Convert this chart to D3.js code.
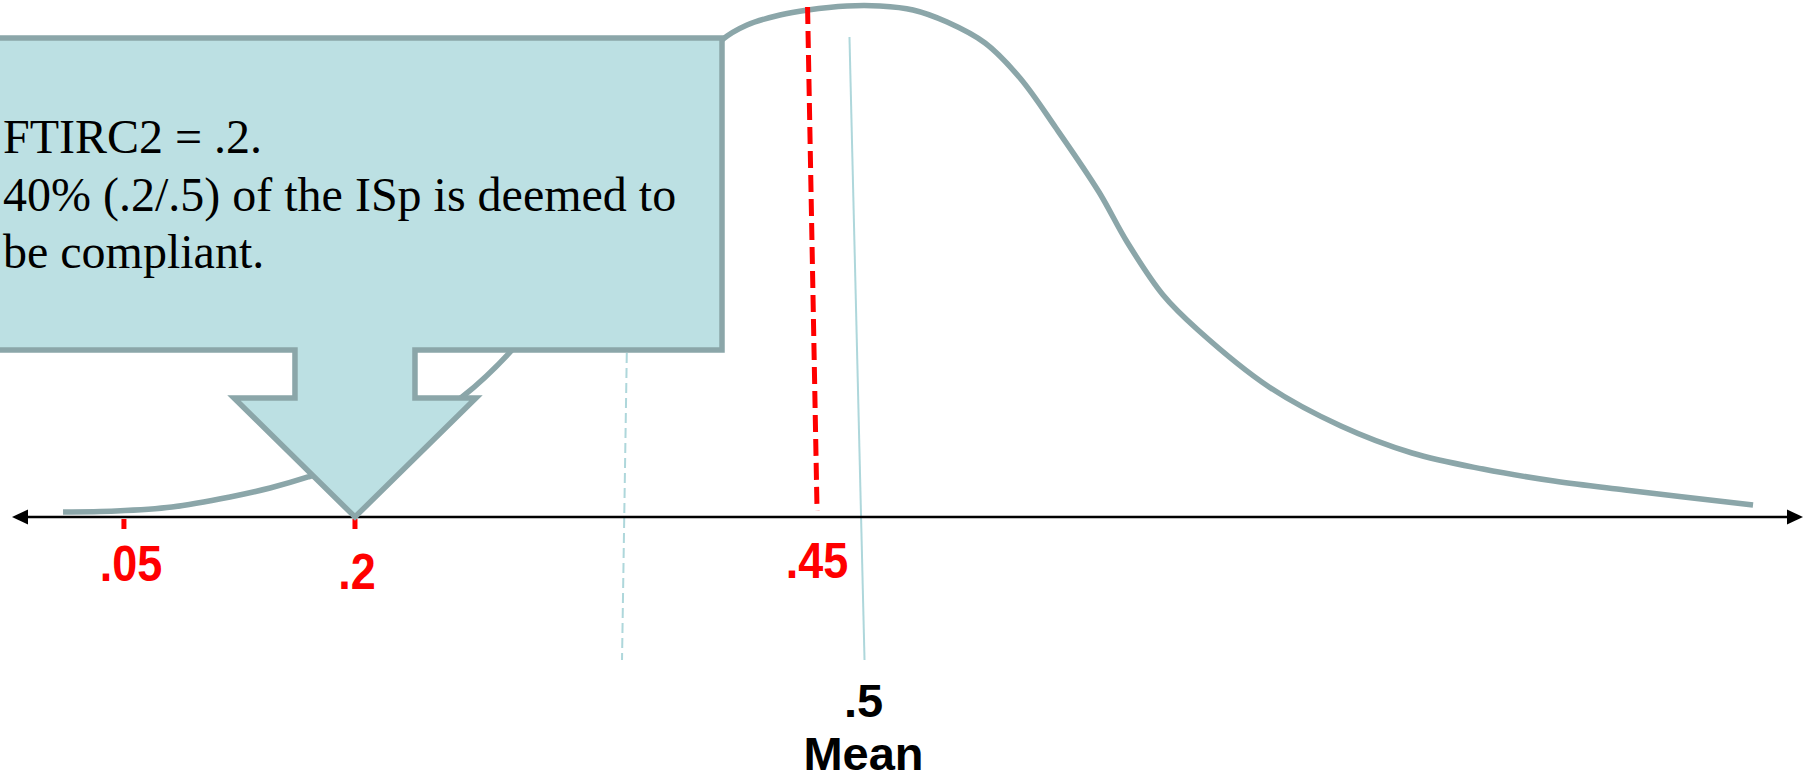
<!DOCTYPE html>
<html>
<head>
<meta charset="utf-8">
<script src="https://cdn.jsdelivr.net/npm/d3@7"></script>
<style>
  html, body { margin: 0; padding: 0; background: #ffffff; }
  svg { display: block; }
</style>
</head>
<body>
<svg id="chart" width="1816" height="780"></svg>
<script>
// ---------------- DATA ----------------
// Skewed distribution curve, position along the axis (0-100) and height (0-100)
const curveX = [2.85, 5.81, 8.93, 12.17, 14.41, 16.53, 18.87, 21.66, 25.13, 27.92,
                30.6, 32.83, 35.06, 37.3, 39.64, 41.04, 42.88, 44.44, 46.62, 48.46,
                50.31, 52.21, 54.33, 56.28, 58.29, 60.69, 62.26, 64.27, 66.22, 70.19,
                74.2, 78.17, 82.13, 86.1, 90.06, 97.21];
const curveY = [0.97, 1.16, 1.93, 3.87, 5.61, 7.74, 10.64, 15.47, 23.21, 32.3,
                43.91, 56.48, 70.02, 82.59, 92.26, 95.16, 97.1, 98.07, 98.84, 98.84,
                98.07, 95.74, 91.68, 84.91, 75.24, 62.86, 53.19, 42.94, 36.17, 25.15,
                17.6, 12.38, 9.28, 6.96, 5.22, 2.32];

// Red value labels on the axis
const tickLabels = [".05", ".2", ".45"];
const tickPos = [6.25, 19.15, 44.95];

// Red dashed threshold line (.45) : top / bottom position along the axis
const thresholdPos = [44.42, 44.95];
// Mean line (.5): top / bottom position
const meanPos = [46.76, 47.6];
const meanLabels = [".5", "Mean"];
// Light blue dashed guide line: top / bottom position
const guidePos = [34.6, 34.06];

// Callout text
const calloutLines = ["FTIRC2 = .2.", "40% (.2/.5) of the ISp is deemed to", "be compliant."];

// ---------------- LAYOUT ----------------
const W = 1816, H = 780;
const axisY = 517;
const svg = d3.select("#chart");

const x = d3.scaleLinear().domain([0, 100]).range([12, 1803]);
const y = d3.scaleLinear().domain([0, 100]).range([axisY, 0]);

const curveColor = "#8ba6a9";
const calloutFill = "#bce0e3";
const lightBlue = "#aed7db";
const red = "#ff0000";

// light blue dashed guide line (behind callout)
svg.append("line")
  .attr("x1", x(guidePos[0])).attr("y1", 38)
  .attr("x2", x(guidePos[1])).attr("y2", 660)
  .attr("stroke", lightBlue).attr("stroke-width", 2)
  .attr("stroke-dasharray", "10,5");

// mean line
svg.append("line")
  .attr("x1", x(meanPos[0])).attr("y1", 37)
  .attr("x2", x(meanPos[1])).attr("y2", 660)
  .attr("stroke", lightBlue).attr("stroke-width", 2);

// curve
const pts = curveX.map((d, i) => [d, curveY[i]]);
const line = d3.line().x(d => x(d[0])).y(d => y(d[1])).curve(d3.curveCatmullRom.alpha(0.5));
svg.append("path")
  .attr("d", line(pts))
  .attr("fill", "none")
  .attr("stroke", curveColor)
  .attr("stroke-width", 5.5);

// red dashed threshold line
svg.append("line")
  .attr("x1", x(thresholdPos[0])).attr("y1", 7)
  .attr("x2", x(thresholdPos[1])).attr("y2", 511)
  .attr("stroke", red).attr("stroke-width", 5)
  .attr("stroke-dasharray", "17,7");

// axis with arrowheads
const [ax0, ax1] = x.range();
svg.append("line")
  .attr("x1", ax0 + 8).attr("y1", axisY)
  .attr("x2", ax1 - 8).attr("y2", axisY)
  .attr("stroke", "#000").attr("stroke-width", 2.5);
svg.append("path")
  .attr("d", `M${ax0},${axisY} L${ax0 + 16},${axisY - 7.5} L${ax0 + 16},${axisY + 7.5} Z`)
  .attr("fill", "#000");
svg.append("path")
  .attr("d", `M${ax1},${axisY} L${ax1 - 16},${axisY - 7.5} L${ax1 - 16},${axisY + 7.5} Z`)
  .attr("fill", "#000");

// red tick marks (.05 and .2)
svg.selectAll("line.tick").data(tickPos.slice(0, 2)).join("line")
  .attr("class", "tick")
  .attr("x1", d => x(d)).attr("x2", d => x(d))
  .attr("y1", axisY + 2).attr("y2", axisY + 12)
  .attr("stroke", red).attr("stroke-width", 5);

// callout (down-arrow)
const tipX = x(tickPos[1]), tipY = axisY;
const boxL = -10, boxR = 722, boxT = 38, boxB = 350;
const stemHalf = 60, headHalf = 121, headTop = 398;
const callout = d3.path();
callout.moveTo(boxL, boxT);
callout.lineTo(boxR, boxT);
callout.lineTo(boxR, boxB);
callout.lineTo(tipX + stemHalf, boxB);
callout.lineTo(tipX + stemHalf, headTop);
callout.lineTo(tipX + headHalf, headTop);
callout.lineTo(tipX, tipY);
callout.lineTo(tipX - headHalf, headTop);
callout.lineTo(tipX - stemHalf, headTop);
callout.lineTo(tipX - stemHalf, boxB);
callout.lineTo(boxL, boxB);
callout.closePath();
svg.append("path")
  .attr("d", callout.toString())
  .attr("fill", calloutFill)
  .attr("stroke", curveColor)
  .attr("stroke-width", 5.5)
  .attr("stroke-linejoin", "miter");

// callout text
svg.append("g").selectAll("text").data(calloutLines).join("text")
  .attr("x", 3)
  .attr("y", (d, i) => 153 + i * 57.5)
  .attr("font-family", "'Liberation Serif', 'Times New Roman', serif")
  .attr("font-size", 48)
  .attr("fill", "#000")
  .text(d => d);

// red labels (slightly condensed bold sans)
const labelDx = [7, 2, 0];
const labelY = [581, 589, 578];
svg.append("g").selectAll("text").data(tickLabels).join("text")
  .attr("transform", (d, i) => `translate(${x(tickPos[i]) + labelDx[i]},${labelY[i]}) scale(0.9,1)`)
  .attr("text-anchor", "middle")
  .attr("font-family", "'Liberation Sans', Arial, sans-serif")
  .attr("font-weight", "bold")
  .attr("font-size", 50)
  .attr("fill", red)
  .text(d => d);

// mean labels
svg.append("g").selectAll("text").data(meanLabels).join("text")
  .attr("x", x(meanPos[1]) - 1)
  .attr("y", (d, i) => 717 + i * 53)
  .attr("text-anchor", "middle")
  .attr("font-family", "'Liberation Sans', Arial, sans-serif")
  .attr("font-weight", "bold")
  .attr("font-size", 47)
  .attr("fill", "#000")
  .text(d => d);
</script>
</body>
</html>
